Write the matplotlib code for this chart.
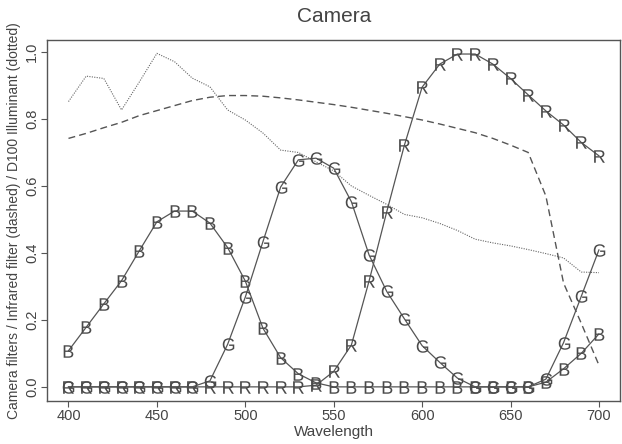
import numpy as np
import matplotlib
matplotlib.use('Agg')
import matplotlib.pyplot as plt

plt.rcParams['font.family'] = ['Liberation Sans', 'DejaVu Sans']
plt.rcParams['mathtext.fontset'] = 'custom'
plt.rcParams['mathtext.sf'] = 'Liberation Sans'

# wavelengths, 10 nm steps
wavelength = list(range(400, 701, 10))

# camera filter responses
red = [0, 0, 0, 0, 0, 0, 0, 0, 0, 0, 0, 0, 0, 0, 0.005, 0.046, 0.125, 0.316,
       0.523, 0.722, 0.895, 0.964, 0.994, 0.994, 0.964, 0.921, 0.872, 0.824,
       0.782, 0.73, 0.69]
green = [0, 0, 0, 0, 0, 0, 0, 0, 0.018, 0.127, 0.268, 0.434, 0.597, 0.678,
         0.683, 0.653, 0.553, 0.394, 0.285, 0.203, 0.123, 0.073, 0.026, 0,
         0, 0, 0, 0.023, 0.132, 0.27, 0.409]
blue = [0.108, 0.178, 0.248, 0.317, 0.406, 0.493, 0.525, 0.525, 0.489, 0.416,
        0.316, 0.175, 0.087, 0.039, 0.012, 0, 0, 0, 0, 0, 0, 0, 0, 0, 0, 0,
        0, 0.014, 0.054, 0.10, 0.158]

# infrared filter (dashed)
infrared = [0.742, 0.757, 0.774, 0.79, 0.81, 0.825, 0.84, 0.855, 0.865, 0.87,
            0.87, 0.868, 0.863, 0.857, 0.85, 0.843, 0.835, 0.826, 0.817, 0.807,
            0.797, 0.785, 0.772, 0.759, 0.742, 0.722, 0.70, 0.57, 0.31, 0.19,
            0.065]

# D100 illuminant (dotted)
illuminant = [0.852, 0.928, 0.921, 0.827, 0.91, 0.996, 0.971, 0.922, 0.896,
              0.827, 0.797, 0.758, 0.707, 0.70, 0.672, 0.645, 0.60, 0.572,
              0.545, 0.515, 0.505, 0.488, 0.467, 0.441, 0.43, 0.421, 0.41,
              0.398, 0.385, 0.343, 0.341]

ink = '#555555'

fig = plt.figure(figsize=(6.22, 4.44), dpi=100)
ax = fig.add_axes([0.076, 0.097, 0.921, 0.813])

ax.plot(wavelength, infrared, color=ink, lw=1.0, ls=(0, (5, 3)))
ax.plot(wavelength, illuminant, color='#666666', lw=0.8, ls=(0, (1, 1.2)))

for vals, letter in [(blue, 'B'), (green, 'G'), (red, 'R')]:
    ax.plot(wavelength, vals, color=ink, lw=0.9,
            marker=r'$\mathsf{%s}$' % letter, markersize=9,
            markeredgewidth=0, markerfacecolor='#4a4a4a')

ax.set_xlim(388, 712)
ax.set_ylim(-0.042, 1.036)
ax.set_xticks(range(400, 701, 50))
ax.set_yticks([0.0, 0.2, 0.4, 0.6, 0.8, 1.0])
ax.set_yticklabels(['0.0', '0.2', '0.4', '0.6', '0.8', '1.0'],
                   rotation=90, va='center')
ax.tick_params(direction='out', length=4, width=0.8, colors=ink,
               labelsize=10.5, labelcolor='#444444', pad=2)

for s in ax.spines.values():
    s.set_color('#555555')
    s.set_linewidth(1.0)

ax.set_xlabel('Wavelength', fontsize=11, color='#444444', labelpad=1)
ax.set_ylabel('Camera filters / Infrared filter (dashed) / D100 Illuminant (dotted)',
              fontsize=10, color='#444444', labelpad=3)
ax.set_title('Camera', fontsize=15, color='#444444', pad=13)

fig.savefig('out.png', dpi=100)
